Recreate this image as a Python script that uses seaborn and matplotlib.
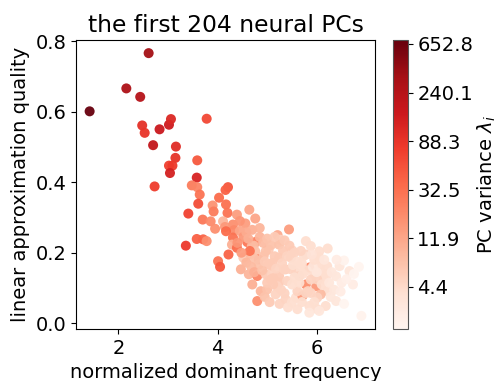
import numpy as np
import pandas as pd
import matplotlib
matplotlib.use("Agg")
import matplotlib.pyplot as plt
import seaborn as sns
from matplotlib.colors import Normalize
from matplotlib.cm import ScalarMappable

# ---------------- data ----------------
freq = [
    1.42, 2.61, 2.16, 2.44, 2.48, 2.53, 2.83, 3.02, 3.06, 3.78,
    2.70, 3.16, 3.15, 3.02, 3.09, 3.04, 3.59, 3.58, 2.73, 3.48,
    3.59, 3.64, 4.21, 4.16, 4.03, 3.61, 3.41, 4.17, 3.90, 3.92,
    4.20, 4.39, 4.64, 3.70, 4.11, 3.86, 4.31, 4.76, 4.56, 3.95,
    4.15, 4.33, 3.58, 3.71, 3.78, 3.36, 4.17, 4.31, 5.21, 5.26,
    5.44, 4.60, 4.77, 4.29, 4.73, 5.78, 4.22, 4.39, 4.69, 4.76,
    5.03, 5.24, 5.51, 5.78, 5.88, 6.05, 6.22, 4.52, 4.66, 4.83,
    4.93, 5.10, 5.24, 5.37, 5.48, 5.74, 5.85, 6.08, 6.11, 6.46,
    6.39, 6.66, 6.73, 4.47, 4.63, 4.80, 4.97, 5.10, 5.24, 5.34,
    5.58, 5.65, 5.95, 5.78, 5.99, 6.14, 6.21, 4.87, 5.00, 5.17,
    5.37, 5.58, 5.71, 5.88, 6.08, 6.39, 4.80, 5.61, 6.01, 6.18,
    6.90, 5.85, 6.05, 6.21, 6.01, 5.82, 6.01, 4.01, 4.05, 4.83,
    5.03, 5.07, 5.24, 4.65, 4.76, 4.97, 5.07, 5.12, 5.48, 5.65,
    5.61, 5.78, 5.88, 6.21,
    4.45, 4.52, 4.58, 4.70, 4.85, 4.92, 5.00, 5.08, 4.40, 4.48,
    4.58, 4.68, 4.74, 4.90, 4.95, 5.15, 5.18, 5.30, 5.32, 5.40,
    5.45, 5.55, 5.60, 5.70, 5.68, 5.52, 5.40, 5.50, 5.55, 5.65,
    5.72, 5.80, 5.92, 5.95, 6.00, 6.10, 6.25, 6.30, 6.35, 6.50,
    5.20, 5.28, 5.12, 5.00, 4.95, 5.05, 5.25, 5.42, 5.50, 5.70,
    5.95, 6.05, 5.85, 6.28, 6.48, 6.60, 5.35, 5.15, 4.85, 4.62,
    6.55, 6.75, 6.85, 5.90, 6.15, 6.40, 4.70, 5.35, 6.55, 4.45,
]
quality = [
    0.601, 0.766, 0.666, 0.642, 0.561, 0.540, 0.550, 0.563, 0.579, 0.580,
    0.505, 0.501, 0.469, 0.447, 0.447, 0.426, 0.462, 0.413, 0.388, 0.391,
    0.386, 0.365, 0.386, 0.378, 0.356, 0.339, 0.311, 0.337, 0.334, 0.317,
    0.313, 0.308, 0.322, 0.294, 0.289, 0.289, 0.280, 0.297, 0.283, 0.268,
    0.273, 0.264, 0.239, 0.238, 0.233, 0.220, 0.261, 0.243, 0.250, 0.237,
    0.266, 0.230, 0.231, 0.223, 0.220, 0.233, 0.195, 0.214, 0.218, 0.204,
    0.209, 0.223, 0.206, 0.195, 0.219, 0.204, 0.212, 0.186, 0.195, 0.181,
    0.191, 0.171, 0.186, 0.153, 0.186, 0.191, 0.158, 0.167, 0.143, 0.162,
    0.133, 0.148, 0.110, 0.153, 0.139, 0.134, 0.139, 0.139, 0.134, 0.153,
    0.143, 0.158, 0.139, 0.110, 0.105, 0.124, 0.091, 0.091, 0.096, 0.082,
    0.068, 0.073, 0.077, 0.086, 0.082, 0.063, 0.063, 0.040, 0.040, 0.049,
    0.021, 0.049, 0.186, 0.139, 0.124, 0.091, 0.073, 0.176, 0.160, 0.167,
    0.167, 0.124, 0.115, 0.205, 0.181, 0.204, 0.164, 0.128, 0.153, 0.134,
    0.091, 0.086, 0.124, 0.162,
    0.262, 0.245, 0.258, 0.265, 0.245, 0.228, 0.240, 0.222, 0.228, 0.200,
    0.172, 0.160, 0.145, 0.150, 0.175, 0.190, 0.155, 0.170, 0.205, 0.190,
    0.220, 0.200, 0.175, 0.170, 0.205, 0.165, 0.120, 0.110, 0.130, 0.115,
    0.140, 0.150, 0.160, 0.180, 0.145, 0.110, 0.115, 0.145, 0.095, 0.115,
    0.105, 0.095, 0.110, 0.115, 0.075, 0.060, 0.055, 0.045, 0.060, 0.060,
    0.060, 0.035, 0.030, 0.075, 0.090, 0.125, 0.235, 0.245, 0.270, 0.240,
    0.178, 0.140, 0.160, 0.195, 0.180, 0.180, 0.110, 0.085, 0.055, 0.290,
]
variance = [
    708.0, 330, 280, 240, 95, 88, 160, 150, 115, 62,
    190, 105, 92, 72, 78, 135, 48, 125, 75, 26,
    22, 30, 50, 42, 36, 58, 68, 32, 17, 26,
    30, 14, 12, 28, 9, 20, 18, 12, 14, 18,
    15, 20, 42, 40, 18, 80, 35, 30, 11, 5,
    14, 28, 24, 10, 8, 4, 40, 34, 8, 7,
    6, 7, 5, 5, 4, 4, 4, 6, 8, 25,
    7, 6, 6, 6, 5, 4, 20, 4, 4, 3,
    3, 3, 2.5, 10, 9, 22, 6, 5, 6, 5,
    5, 4, 4, 18, 15, 4, 4, 9, 7, 5,
    5, 4, 15, 5, 8, 3, 18, 4, 4, 4,
    2, 4, 4, 4, 5, 5, 5, 30, 50, 7,
    6, 6, 6, 30, 7, 7, 6, 6, 5, 5,
    5, 5, 5, 4,
    12, 15, 11, 10, 9, 8, 7, 7, 16, 14,
    9, 8, 10, 7, 6, 6, 5, 5, 6, 5,
    6, 5, 4, 4, 5, 4, 5, 4, 4, 4,
    4, 4, 3, 4, 3, 4, 3, 3, 3, 2.5,
    5, 5, 6, 6, 7, 6, 5, 4, 4, 4,
    4, 3, 3, 3, 2.5, 2.2, 6, 6, 9, 10,
    2, 1.9, 1.84, 3.5, 3, 2.5, 10, 5, 1.84, 16,
]
cbar_labels = ["4.4", "11.9", "32.5", "88.3", "240.1", "652.8"]

# ---------------- figure ----------------
plt.rcParams["font.size"] = 14
fig = plt.figure(figsize=(4.97, 3.81), dpi=100)
ax = fig.add_axes([0.153, 0.1365, 0.6015, 0.7585])
cax = fig.add_axes([0.790, 0.1365, 0.0302, 0.7585])

df = pd.DataFrame({"freq": freq, "quality": quality,
                   "logvar": np.log(np.asarray(variance, dtype=float))})
vmin, vmax = df["logvar"].min(), df["logvar"].max()

sns.scatterplot(data=df, x="freq", y="quality", hue="logvar", palette="Reds",
                hue_norm=(vmin, vmax), legend=False, s=52, linewidth=0,
                alpha=0.95, ax=ax)

ax.set_xlabel("normalized dominant frequency")
ax.set_ylabel("linear approximation quality")
ax.set_title("the first 204 neural PCs")
ax.set_yticks([0.0, 0.2, 0.4, 0.6, 0.8])
ax.set_xticks([2, 4, 6])

sm = ScalarMappable(norm=Normalize(vmin, vmax), cmap="Reds")
cb = fig.colorbar(sm, cax=cax)
tick_pos = np.log([float(t) for t in cbar_labels])
cb.set_ticks(tick_pos)
cb.set_ticklabels(cbar_labels)
cb.set_label(r"PC variance $\lambda_i$", labelpad=2)
cb.outline.set_edgecolor("#555555")

fig.savefig("out.png", dpi=100)
